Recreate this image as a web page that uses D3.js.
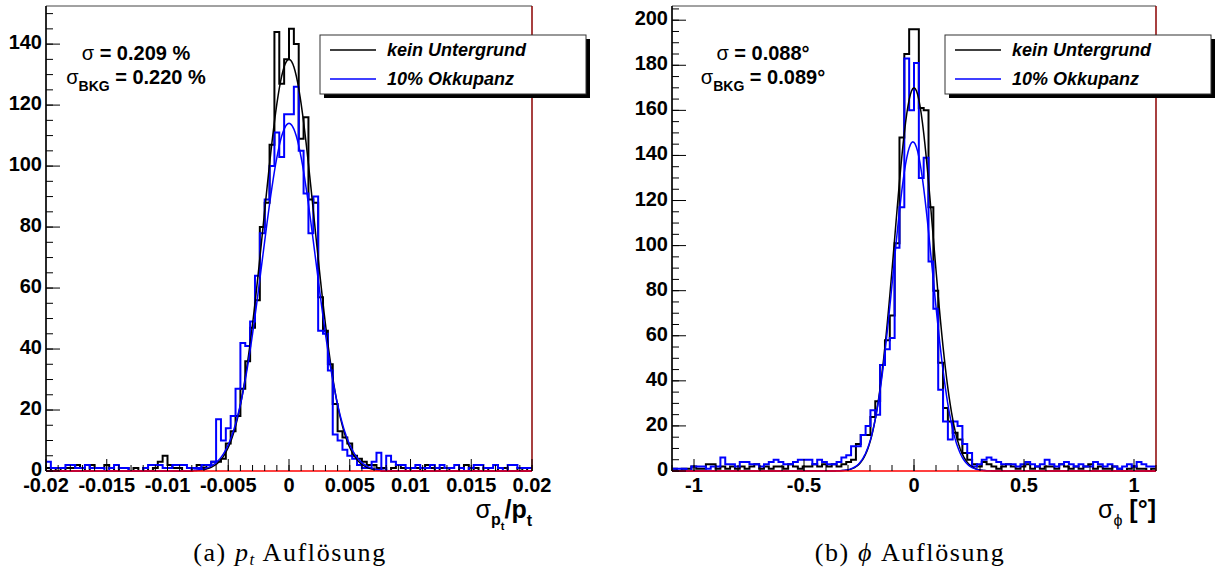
<!DOCTYPE html>
<html>
<head>
<meta charset="utf-8">
<script src="https://cdn.jsdelivr.net/npm/d3@7"></script>
<style>
  body { margin: 0; background: #fff; }
  svg { display: block; }
</style>
</head>
<body>
<div id="chart"></div>
<script>
// ---- data: bin contents (100 bins per histogram) ----
const ptRange = [-0.02, 0.02];
const ptNoBkg = [
  1,0,1,0,1,1,2,1,0,2, 1,1,2,1,0,1,1,0,1,0, 1,0,1,3,5,2,1,1,0,0,
  1,2,1,2,3,3,4,9,13,18, 27,36,47,56,80,88,107,144,127,135,
  145,140,109,116,89,88,57,46,35,22, 13,11,9,5,4,3,2,2,1,1,
  0,1,2,1,0,1,1,0,2,1, 0,1,1,0,0,1,2,0,1,0, 1,0,0,1,1,0,0,1,0,1
];
const ptBkg = [
  3,1,1,1,2,2,1,1,2,1, 1,1,0,1,2,1,1,0,0,0, 1,2,2,2,1,1,2,2,2,1,
  1,1,2,2,3,17,10,14,18,27, 42,41,49,64,78,89,100,111,103,117,
  117,126,105,91,78,90,46,45,33,12, 10,7,5,4,2,1,1,3,6,0,
  5,3,2,2,1,1,2,1,1,2, 1,2,1,1,2,1,0,1,2,2, 1,1,2,1,0,2,2,1,1,1
];
const phiRange = [-1.1, 1.1];
const phiNoBkg = [
  1,0,1,1,2,1,1,3,3,1, 2,1,2,1,2,1,2,3,1,2, 1,2,2,1,3,2,1,2,2,3,
  2,3,2,3,2,3,4,5,12,16, 16,24,31,47,58,69,101,148,185,196,
  196,161,160,117,80,48,28,22,17,14, 8,5,3,2,4,3,2,1,2,3,
  2,1,2,3,1,2,1,2,2,1, 3,2,1,2,1,2,3,1,2,1, 1,2,1,0,1,2,1,1,0,1
];
const phiBkg = [
  1,1,1,0,2,2,2,1,2,2, 6,3,3,2,4,4,3,3,2,3, 4,5,4,3,3,4,5,5,5,3,
  5,4,3,3,4,6,7,11,11,16, 20,27,25,47,54,59,99,117,183,160,
  181,130,139,93,72,36,22,14,22,20, 12,8,2,3,5,6,5,4,3,3,
  3,2,3,4,3,2,3,5,3,2, 3,4,3,2,3,2,2,4,3,2, 3,2,1,2,3,2,4,3,2,2
];

// gaussian fit parameters: [constant, mean, sigma]
const ptFitNoBkg = [135, 0, 0.00209];
const ptFitBkg = [114, 0, 0.0022];
const phiFitNoBkg = [170, 0, 0.088];
const phiFitBkg = [146, -0.005, 0.089];

// axis ticks
const ptXTicks = [-0.02, -0.015, -0.01, -0.005, 0, 0.005, 0.01, 0.015, 0.02];
const ptXLabels = ["-0.02", "-0.015", "-0.01", "-0.005", "0", "0.005", "0.01", "0.015", "0.02"];
const phiXTicks = [-1, -0.5, 0, 0.5, 1];
const phiXLabels = ["-1", "-0.5", "0", "0.5", "1"];
const ptYTicks = [0, 20, 40, 60, 80, 100, 120, 140];
const phiYTicks = [0, 20, 40, 60, 80, 100, 120, 140, 160, 180, 200];

const legendLabels = ["kein Untergrund", "10% Okkupanz"];
const colors = ["#000000", "#0000ff"];

const svg = d3.select('#chart')
  .append('svg')
  .attr('width', 1216)
  .attr('height', 572);

const FONT = "'Liberation Sans', Arial, Helvetica, sans-serif";

function drawPanel(p) {
  const x = d3.scaleLinear().domain(p.xDomain).range([p.left, p.right]);
  const y = d3.scaleLinear().domain([0, p.yMax]).range([p.bottom, p.top]);
  const g = svg.append('g');

  // histograms (step outlines)
  [p.h1, p.h2].forEach((h, i) => {
    const n = h.length;
    const w = (p.xDomain[1] - p.xDomain[0]) / n;
    const pts = [];
    h.forEach((v, k) => {
      const x0 = p.xDomain[0] + k * w;
      pts.push([x(x0), y(v)]);
      pts.push([x(x0 + w), y(v)]);
    });
    g.append('path')
      .attr('d', d3.line()(pts))
      .attr('fill', 'none')
      .attr('stroke', colors[i])
      .attr('stroke-width', 2);
  });

  // gaussian fits
  [p.f1, p.f2].forEach((f, i) => {
    const xs = d3.range(0, 401).map(j => p.xDomain[0] + j * (p.xDomain[1] - p.xDomain[0]) / 400);
    const line = d3.line()
      .x(d => x(d))
      .y(d => y(f[0] * Math.exp(-0.5 * Math.pow((d - f[1]) / f[2], 2))));
    g.append('path')
      .attr('d', line(xs))
      .attr('fill', 'none')
      .attr('stroke', colors[i])
      .attr('stroke-width', 1.5);
  });

  // frame
  g.append('path')
    .attr('d', `M${p.right},${p.top}H${p.left}V${p.bottom}`)
    .attr('fill', 'none').attr('stroke', '#444').attr('stroke-width', 1);
  g.append('line')
    .attr('x1', p.left).attr('x2', p.left)
    .attr('y1', p.top).attr('y2', p.bottom)
    .attr('stroke', '#000').attr('stroke-width', 1.5);
  // red zero line and dark red right edge
  g.append('line')
    .attr('x1', p.left).attr('x2', p.right)
    .attr('y1', y(0)).attr('y2', y(0))
    .attr('stroke', '#ff0000').attr('stroke-width', 1.5);
  g.append('line')
    .attr('x1', p.right).attr('x2', p.right)
    .attr('y1', p.top).attr('y2', p.bottom)
    .attr('stroke', '#8b0000').attr('stroke-width', 1.5);

  // x ticks (inside)
  const xMinor = d3.range(Math.ceil(p.xDomain[0] / p.xMinorStep - 1e-6), Math.floor(p.xDomain[1] / p.xMinorStep + 1e-6) + 1)
    .map(i => i * p.xMinorStep);
  g.selectAll(null).data(xMinor).enter().append('line')
    .attr('x1', d => x(d)).attr('x2', d => x(d))
    .attr('y1', p.bottom).attr('y2', p.bottom - 6)
    .attr('stroke', '#000').attr('stroke-width', 1);
  g.selectAll(null).data(p.xTicks).enter().append('line')
    .attr('x1', d => x(d)).attr('x2', d => x(d))
    .attr('y1', p.bottom).attr('y2', p.bottom - 12)
    .attr('stroke', '#000').attr('stroke-width', 1);
  g.selectAll(null).data(p.xTicks).enter().append('text')
    .attr('x', d => x(d))
    .attr('y', p.bottom + 21)
    .attr('text-anchor', 'middle')
    .style('font-family', FONT).style('font-weight', 'bold').style('font-size', '20px')
    .text((d, i) => p.xLabels[i]);

  // y ticks (inside)
  const yMinor = d3.range(0, p.yMax + 1e-6, 5);
  g.selectAll(null).data(yMinor).enter().append('line')
    .attr('x1', p.left).attr('x2', p.left + 7)
    .attr('y1', d => y(d)).attr('y2', d => y(d))
    .attr('stroke', '#000').attr('stroke-width', 1);
  g.selectAll(null).data(p.yTicks).enter().append('line')
    .attr('x1', p.left).attr('x2', p.left + 14)
    .attr('y1', d => y(d)).attr('y2', d => y(d))
    .attr('stroke', '#000').attr('stroke-width', 1);
  g.selectAll(null).data(p.yTicks).enter().append('text')
    .attr('x', p.left - 4)
    .attr('y', d => y(d) + 5)
    .attr('text-anchor', 'end')
    .style('font-family', FONT).style('font-weight', 'bold').style('font-size', '20px')
    .text(d => d);

  // axis title
  const t = g.append('text')
    .attr('x', p.right)
    .attr('y', p.bottom + 47)
    .attr('text-anchor', 'end')
    .style('font-family', FONT).style('font-weight', 'bold').style('font-size', '25px');
  p.title(t);

  // stats text
  const s1 = g.append('text')
    .attr('x', p.statX).attr('y', 60)
    .attr('text-anchor', 'middle')
    .style('font-family', FONT).style('font-weight', 'bold').style('font-size', '20px');
  s1.append('tspan').style('font-weight', 'normal').text('σ');
  s1.append('tspan').text(' = ' + p.stat1);
  const s2 = g.append('text')
    .attr('x', p.statX).attr('y', 84)
    .attr('text-anchor', 'middle')
    .style('font-family', FONT).style('font-weight', 'bold').style('font-size', '20px');
  s2.append('tspan').style('font-weight', 'normal').text('σ');
  s2.append('tspan').attr('dy', 7).style('font-size', '14px').text('BKG');
  s2.append('tspan').attr('dy', -7).text(' = ' + p.stat2);

  // legend
  const lg = g.append('g');
  lg.append('rect')
    .attr('x', p.legX + 4).attr('y', 39)
    .attr('width', p.legW).attr('height', 59)
    .attr('fill', '#000');
  lg.append('rect')
    .attr('x', p.legX).attr('y', 35)
    .attr('width', p.legW).attr('height', 59)
    .attr('fill', '#fff').attr('stroke', '#333').attr('stroke-width', 1);
  legendLabels.forEach((lab, i) => {
    const ly = 50 + i * 29;
    lg.append('line')
      .attr('x1', p.legX + 10).attr('x2', p.legX + 56)
      .attr('y1', ly).attr('y2', ly)
      .attr('stroke', colors[i]).attr('stroke-width', 1.5);
    lg.append('text')
      .attr('x', p.legX + 67).attr('y', ly + 6)
      .style('font-family', FONT).style('font-weight', 'bold')
      .style('font-style', 'italic').style('font-size', '18px')
      .text(lab);
  });

  // caption
  const c = svg.append('text')
    .attr('x', x(0) + p.capShift).attr('y', 561)
    .attr('text-anchor', 'middle')
    .style('font-family', "'Liberation Serif', 'DejaVu Serif', serif")
    .style('font-size', '26px')
    .style('letter-spacing', '1.6px');
  p.caption(c);
}

drawPanel({
  left: 46, right: 532, top: 6, bottom: 471,
  xDomain: ptRange, yMax: 152.5,
  h1: ptNoBkg, h2: ptBkg, f1: ptFitNoBkg, f2: ptFitBkg,
  xTicks: ptXTicks, xLabels: ptXLabels, xMinorStep: 0.001, yTicks: ptYTicks,
  statX: 136, stat1: '0.209 %', stat2: '0.220 %',
  legX: 320, legW: 266, capShift: 1,
  title: t => {
    t.append('tspan').style('font-weight', 'normal').text('σ');
    t.append('tspan').attr('dy', 7).style('font-size', '16px').text('p');
    t.append('tspan').attr('dy', 5).style('font-size', '11px').text('t');
    t.append('tspan').attr('dy', -12).text('/p');
    t.append('tspan').attr('dy', 8).style('font-size', '16px').text('t');
  },
  caption: c => {
    c.append('tspan').text('(a) ');
    c.append('tspan').style('font-style', 'italic').text('p');
    c.append('tspan').attr('dy', 4).style('font-style', 'italic').style('font-size', '17px').text('t');
    c.append('tspan').attr('dy', -4).text(' Auflösung');
  }
});

drawPanel({
  left: 672, right: 1156, top: 6, bottom: 471,
  xDomain: phiRange, yMax: 206.3,
  h1: phiNoBkg, h2: phiBkg, f1: phiFitNoBkg, f2: phiFitBkg,
  xTicks: phiXTicks, xLabels: phiXLabels, xMinorStep: 0.1, yTicks: phiYTicks,
  statX: 763, stat1: '0.088°', stat2: '0.089°',
  legX: 945, legW: 266, capShift: -4,
  title: t => {
    t.append('tspan').style('font-weight', 'normal').text('σ');
    t.append('tspan').attr('dy', 8).style('font-size', '16px').style('font-weight', 'normal').text('ϕ');
    t.append('tspan').attr('dy', -8).text(' [°]');
  },
  caption: c => {
    c.append('tspan').text('(b) ');
    c.append('tspan').style('font-style', 'italic').text('ϕ');
    c.append('tspan').text(' Auflösung');
  }
});
</script>
</body>
</html>
